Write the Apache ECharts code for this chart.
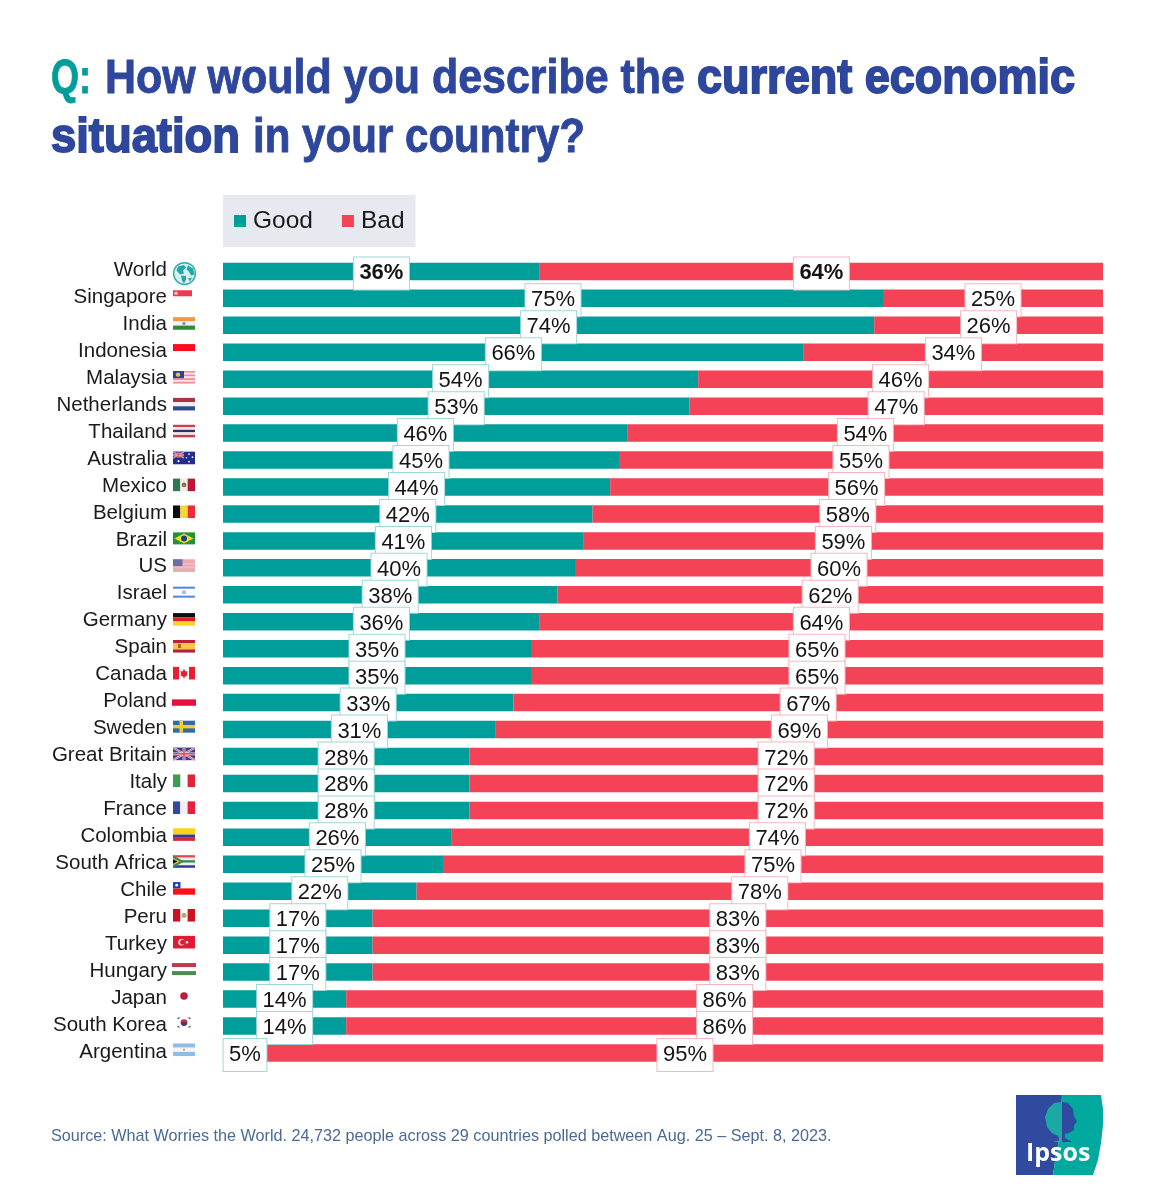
<!DOCTYPE html>
<html>
<head>
<meta charset="utf-8">
<style>html,body{margin:0;padding:0;background:#fff}#chart{width:1150px;height:1200px}</style>
<script src="https://cdn.jsdelivr.net/npm/echarts@6/dist/echarts.min.js"></script>
</head>
<body>
<div id="chart"></div>
<script>
const countries = ['World','Singapore','India','Indonesia','Malaysia','Netherlands','Thailand','Australia','Mexico','Belgium','Brazil','US','Israel','Germany','Spain','Canada','Poland','Sweden','Great Britain','Italy','France','Colombia','South Africa','Chile','Peru','Turkey','Hungary','Japan','South Korea','Argentina'];
const good = [36,75,74,66,54,53,46,45,44,42,41,40,38,36,35,35,33,31,28,28,28,26,25,22,17,17,17,14,14,5];
const bad = [64,25,26,34,46,47,54,55,56,58,59,60,62,64,65,65,67,69,72,72,72,74,75,78,83,83,83,86,86,95];

const TEAL = '#009e9b', RED = '#f44357', NAVY = '#2e479c';
const FONT = '"Liberation Sans", Arial, sans-serif';

// Flag primitives in a local box 22 wide and 15 tall, drawn left of the axis.
const R = (x, y, w, h, fill) => ({type:'rect', shape:{x, y, width:w, height:h}, style:{fill}});
const C = (cx, cy, r, fill) => ({type:'circle', shape:{cx, cy, r}, style:{fill}});
const P = (points, fill) => ({type:'polygon', shape:{points}, style:{fill}});
const L = (x1, y1, x2, y2, stroke, lineWidth) => ({type:'line', shape:{x1, y1, x2, y2}, style:{stroke, lineWidth}});
const stripes = (colors, w = 22, x = 0, y = 1, h = 12.6) => colors.map((c, i) => R(x, y + i * h / colors.length, w, h / colors.length, c));
const bands = (colors, y = 1, h = 12.6) => colors.map((c, i) => R(i * 22 / colors.length, y, 22 / colors.length, h, c));
const unionJack = (x, y, w, h, lw) => [
  R(x, y, w, h, '#2f3f92'),
  L(x, y, x + w, y + h, '#f3e6ea', lw * 1.5), L(x + w, y, x, y + h, '#f3e6ea', lw * 1.5),
  L(x, y, x + w, y + h, '#d4394f', lw * 0.6), L(x + w, y, x, y + h, '#d4394f', lw * 0.6),
  R(x + w / 2 - lw, y, lw * 2, h, '#f3e6ea'), R(x, y + h / 2 - lw, w, lw * 2, '#f3e6ea'),
  R(x + w / 2 - lw / 2, y, lw, h, '#d4394f'), R(x, y + h / 2 - lw / 2, w, lw, '#d4394f')
];

const flags = {
  'World': [C(11.5, 11.2, 11.6, '#2ab0ad'), C(11.5, 11.2, 10.2, '#d6f0ef'),
    P([[5,4],[11,2.5],[13,5],[10,8],[11,11],[7,12],[3.5,8]], '#1ea9a6'),
    P([[8,13],[13,13.5],[13,17],[11,21],[9,18]], '#1ea9a6'),
    P([[15,3],[20,6],[21.5,12],[18,13],[16,9],[13.5,7]], '#1ea9a6'), P([[15,16],[19,15],[17,19]], '#1ea9a6')],
  'Singapore': [R(0, 1, 19, 6, '#f0384f'), C(3, 4, 1.8, '#f9c3ca')],
  'India': [...stripes(['#f5973a','#f2f0f4','#2f8a35']), C(11, 7.3, 1.7, '#8f91c8')],
  'Indonesia': [R(0, 1, 22, 7, '#fb0d1d')],
  'Malaysia': [...stripes(['#ee8d96','#f9e2e4','#ee8d96','#f9e2e4','#ee8d96','#f9e2e4','#ee8d96']), R(0, 1, 11, 7.2, '#2e4394'), C(5, 4.6, 2.2, '#eec23a')],
  'Netherlands': stripes(['#a8353f','#f3eef0','#2f4a95']),
  'Thailand': stripes(['#c9414f','#f3e9ec','#2f3266','#f3e9ec','#c9414f']),
  'Australia': [R(0, 1, 22, 12.6, '#232b8e'), ...unionJack(0, 1, 11, 6.3, 0.8), C(5.5, 10.5, 1.1, '#f1f1f8'), C(16, 3.5, 0.9, '#f1f1f8'), C(19.5, 6.5, 0.9, '#f1f1f8'), C(16, 11, 0.9, '#f1f1f8'), C(13.5, 7, 0.8, '#f1f1f8')],
  'Mexico': [...bands(['#2b7a4f','#f1ece6','#bb1638']), C(11, 7.3, 2.4, '#94714e')],
  'Belgium': bands(['#0c0c0c','#f8d637','#ee2b3a']),
  'Brazil': [R(0, 1, 22, 12, '#21913a'), P([[11,2],[20.5,7],[11,12],[1.5,7]], '#f3dc1e'), C(11, 7, 3, '#1d3f9c')],
  'US': [R(0, 1, 22, 12.6, '#e8aab0'), R(0, 4.6, 22, 1.8, '#eebcc1'), R(0, 8.2, 22, 1.8, '#eebcc1'), R(0, 1, 9.5, 6.8, '#6a6f9e')],
  'Israel': [R(0, 1.5, 22, 2, '#4d8ad8'), R(0, 10.5, 22, 2, '#4d8ad8'), C(11, 7, 1.8, '#6a9de0'), C(11, 7, 0.7, '#ffffff')],
  'Germany': stripes(['#0d0d0d','#dc1f26','#fdd02c']),
  'Spain': [...stripes(['#b9213a','#f5c33c','#f5c33c','#b9213a']), R(5, 5, 3, 4, '#a4652f')],
  'Canada': [R(0, 1, 6, 12.6, '#ec1c2f'), R(16, 1, 6, 12.6, '#ec1c2f'), P([[11,3],[12.6,5.5],[14.5,5],[13.8,8.5],[15,9],[11.5,11],[11.5,12.5],[10.5,12.5],[10.5,11],[7,9],[8.2,8.5],[7.5,5],[9.4,5.5]], '#ec1c2f')],
  'Poland': [R(-1, 6.6, 24, 6.4, '#e4103d')],
  'Sweden': [R(0, 1, 22, 12, '#2e6bac'), R(6.5, 1, 3.5, 12, '#f3cd28'), R(0, 5.3, 22, 3.4, '#f3cd28')],
  'Great Britain': unionJack(0, 1, 22, 12.6, 1.4),
  'Italy': [R(0, 1, 7.3, 12.6, '#3f9a52'), R(14.6, 1, 7.4, 12.6, '#df2438')],
  'France': [R(0, 1, 7.3, 12.6, '#2f4a9e'), R(7.3, 1, 7.3, 12.6, '#f0f0f4'), R(14.6, 1, 7.4, 12.6, '#e8203f')],
  'Colombia': [R(0, 1, 22, 6.3, '#fbd315'), R(0, 7.3, 22, 3.2, '#2b3f99'), R(0, 10.5, 22, 3.1, '#d7273d')],
  'South Africa': [...stripes(['#de4a4e','#f3ede8','#2f8b55','#f3ede8','#2c3da0']), P([[0,1],[11,7.3],[0,13.6]], '#2f8b55'), P([[0,3.5],[7,7.3],[0,11]], '#f2bb30'), P([[0,5],[4.5,7.3],[0,9.6]], '#111111')],
  'Chile': [R(0, 7.3, 22, 6.3, '#fb1018'), R(0, 1, 7.5, 6.3, '#1e3fb8'), C(3.7, 4.1, 1.4, '#ffffff')],
  'Peru': [R(0, 1, 7.3, 12.6, '#cd1220'), R(14.6, 1, 7.4, 12.6, '#cd1220'), C(11, 7.3, 2.6, '#a9ae84')],
  'Turkey': [R(0, 1, 22, 12.6, '#de1b32'), C(8.5, 7.3, 3.2, '#fbe9ea'), C(9.6, 7.3, 2.5, '#de1b32'), C(14, 7.3, 1.2, '#fbe9ea')],
  'Hungary': [R(-1, 1.3, 24, 4, '#bf3549'), R(-1, 9.3, 24, 4, '#4d8a52')],
  'Japan': [C(11, 7.3, 3.8, '#bd1a3c')],
  'South Korea': [C(11, 7, 3.4, '#c8293f'), P([[7.6,7],[14.4,7],[13.2,9.6],[9,9.8]], '#26408f'),
    L(4.5,3.5,6.5,2,'#55555f',1.2), L(15.5,2,17.5,3.5,'#55555f',1.2), L(4.5,10.5,6.5,12,'#55555f',1.2), L(15.5,12,17.5,10.5,'#55555f',1.2)],
  'Argentina': [...stripes(['#8fbde8','#f6f6f8','#8fbde8']), C(11, 7.3, 1.2, '#eeb04a')]
};

const boxLabel = (borderColor) => ({
  show: true,
  position: 'inside',
  offset: [0, 2],
  formatter: '{c}%',
  fontFamily: FONT,
  fontSize: 22,
  lineHeight: 22,
  color: '#141414',
  backgroundColor: '#ffffff',
  borderColor,
  borderWidth: 1,
  padding: [7, 5.5, 3, 5.5]
});
// The World row carries bold figures.
const withBoldFirst = (values) => values.map((value, i) => i === 0 ? {value, label: {fontWeight: 'bold'}} : value);

// Heading fragments are squeezed horizontally to a condensed setting.
const ctx = document.createElement('canvas').getContext('2d');
const heading = (text, left, right, baseline, fill, heavy) => {
  const fontSize = 49;
  ctx.font = 'bold ' + fontSize + 'px ' + FONT;
  const natural = ctx.measureText(text).width;
  return {
    type: 'text', x: left, y: baseline, scaleX: (right - left) / natural, z: 10,
    style: {text, fontFamily: FONT, fontWeight: 'bold', fontSize, fill, verticalAlign: 'bottom',
      stroke: fill, lineWidth: heavy ? 1.8 : 0.9}
  };
};

const chart = echarts.init(document.getElementById('chart'), null, {renderer: 'canvas'});
chart.setOption({
  animation: false,
  backgroundColor: '#ffffff',
  legend: {
    left: 223, top: 195,
    data: ['Good', 'Bad'],
    icon: 'rect',
    itemWidth: 12, itemHeight: 12, itemGap: 29,
    padding: [13.5, 11, 13.5, 11],
    backgroundColor: '#e6e9ef',
    selectedMode: false,
    textStyle: {fontFamily: FONT, fontSize: 24.5, color: '#1a1a1a', padding: [2, 0, 0, 2]}
  },
  grid: {left: 223, top: 257.9, width: 880, height: 808.5},
  xAxis: {type: 'value', min: 0, max: 100, show: false},
  yAxis: {
    type: 'category', inverse: true, data: countries,
    axisLine: {show: false}, axisTick: {show: false}, splitLine: {show: false},
    axisLabel: {
      margin: 56, align: 'right', interval: 0, verticalAlign: 'middle',
      formatter: (name) => '{name|' + name + '}',
      rich: {name: {fontFamily: FONT, fontSize: 20.5, lineHeight: 24, color: '#1a1a1a', padding: [0, 0, 2, 0]}}
    }
  },
  series: [
    {name: 'Good', type: 'bar', stack: 'share', barWidth: 17.5, itemStyle: {color: TEAL}, label: boxLabel('#9ed8d7'), data: withBoldFirst(good)},
    {name: 'Bad', type: 'bar', stack: 'share', barWidth: 17.5, itemStyle: {color: RED}, label: boxLabel('#f8b6bf'), data: withBoldFirst(bad)},
    {
      name: 'Flags', type: 'custom', silent: true, clip: false,
      data: countries.map((name, i) => [0, i]),
      encode: {x: 0, y: 1},
      renderItem: (params, api) => {
        const p = api.coord([0, api.value(1)]);
        return {type: 'group', x: p[0] - 50, y: p[1] - 9 - params.dataIndex * 0.05, children: flags[countries[params.dataIndex]]};
      }
    }
  ],
  graphic: [
    heading('Q:', 51, 91, 103.5, TEAL, false),
    heading('How would you describe the', 105, 685, 103.5, NAVY, false),
    heading('current economic', 697, 1075, 103.5, NAVY, true),
    heading('situation', 51, 240, 163, NAVY, true),
    heading('in your country?', 253, 585, 163, NAVY, false),
    {type: 'text', left: 51, top: 1129, style: {text: 'Source: What Worries the World. 24,732 people across 29 countries polled between Aug. 25 – Sept. 8, 2023.', fontFamily: FONT, fontSize: 16.2, fill: '#4a6a95'}},
    {type: 'group', x: 1016, y: 1095, children: [
      {type: 'polygon', shape: {points: [[0,0],[46,0],[45,20],[43,45],[40,60],[37,80],[0,80]]}, style: {fill: '#2f4a9f'}},
      {type: 'polygon', shape: {points: [[46,0],[85,0],[87,14],[87,30],[85,48],[82,65],[77,80],[37,80],[40,60],[43,45],[45,20]]}, style: {fill: '#00a99d'}},
      {type: 'polygon', shape: {points: [[46,7],[38,8],[32,14],[29,22],[31,32],[36,38],[42,41],[44,45],[37,47],[46,47]]}, style: {fill: '#1da9a3'}},
      {type: 'polygon', shape: {points: [[46,7],[52,8],[57,14],[58,21],[61,27],[58,30],[58,35],[53,38],[49,39],[49,43],[56,47],[46,47]]}, style: {fill: '#2f4a9f'}},
      {type: 'text', x: 10, y: 46, style: {text: 'Ipsos', fontFamily: '"Open Sans", sans-serif', fontWeight: 'bold', fontSize: 25, fill: '#ffffff'}}
    ]}
  ]
});
</script>
</body>
</html>
